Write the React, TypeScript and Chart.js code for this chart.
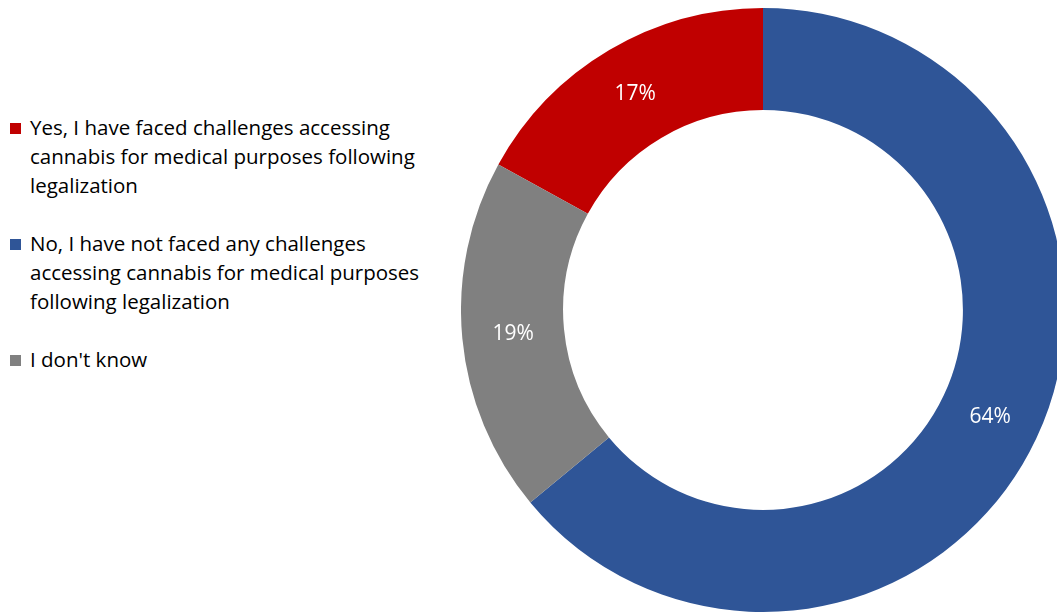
import React, { useEffect, useRef } from "react";
import { Chart, registerables } from "chart.js";

Chart.register(...registerables);

const categories: string[][] = [
  ["Yes, I have faced challenges accessing", "cannabis for medical purposes following", "legalization"],
  ["No, I have not faced any challenges", "accessing cannabis for medical purposes", "following legalization"],
  ["I don't know"],
];
const values: number[] = [17, 64, 19];
const valueLabels: string[] = ["17%", "64%", "19%"];
const colors: string[] = ["#C00000", "#2F5597", "#808080"];

const FONT = "'Open Sans', Lato, sans-serif";

const labelPlugin = {
  id: "sliceLabels",
  afterDatasetsDraw(chart: any) {
    const ctx = chart.ctx;
    const meta = chart.getDatasetMeta(0);
    ctx.save();
    ctx.fillStyle = "#FFFFFF";
    ctx.font = `21px ${FONT}`;
    ctx.textAlign = "center";
    ctx.textBaseline = "middle";
    meta.data.forEach((arc: any, i: number) => {
      const p = arc.tooltipPosition();
      ctx.fillText(valueLabels[i], p.x, p.y);
    });
    ctx.restore();
  },
};

export default function App() {
  const canvasRef = useRef<HTMLCanvasElement | null>(null);

  useEffect(() => {
    if (!canvasRef.current) return;
    const chart = new Chart(canvasRef.current, {
      type: "doughnut",
      data: {
        labels: categories.map((c) => c.join(" ")),
        datasets: [
          {
            data: values,
            backgroundColor: colors,
            borderWidth: 0,
          },
        ],
      },
      options: {
        animation: false,
        responsive: true,
        maintainAspectRatio: false,
        rotation: -61.2,
        cutout: "66.2%",
        layout: { padding: 0 },
        plugins: {
          legend: { display: false },
          tooltip: { enabled: false },
        },
      },
      plugins: [labelPlugin],
    });
    return () => chart.destroy();
  }, []);

  return (
    <div
      style={{
        position: "fixed",
        left: 0,
        top: 0,
        width: 1057,
        height: 612,
        overflow: "hidden",
        background: "#FFFFFF",
        fontFamily: FONT,
      }}
    >
      <div
        style={{
          position: "absolute",
          left: 10,
          top: 113,
          fontSize: 20.5,
          lineHeight: "29px",
          color: "#000000",
        }}
      >
        {categories.map((lines, i) => (
          <div key={i} style={{ position: "relative", paddingLeft: 20, marginBottom: 29 }}>
            <span
              style={{
                position: "absolute",
                left: 0,
                top: 10,
                width: 11,
                height: 11,
                background: colors[i],
              }}
            />
            {lines.map((l, j) => (
              <div key={j} style={{ whiteSpace: "nowrap" }}>
                {l}
              </div>
            ))}
          </div>
        ))}
      </div>
      <div
        style={{
          position: "absolute",
          left: 461,
          top: 8,
          width: 604,
          height: 604,
        }}
      >
        <canvas ref={canvasRef} />
      </div>
    </div>
  );
}
